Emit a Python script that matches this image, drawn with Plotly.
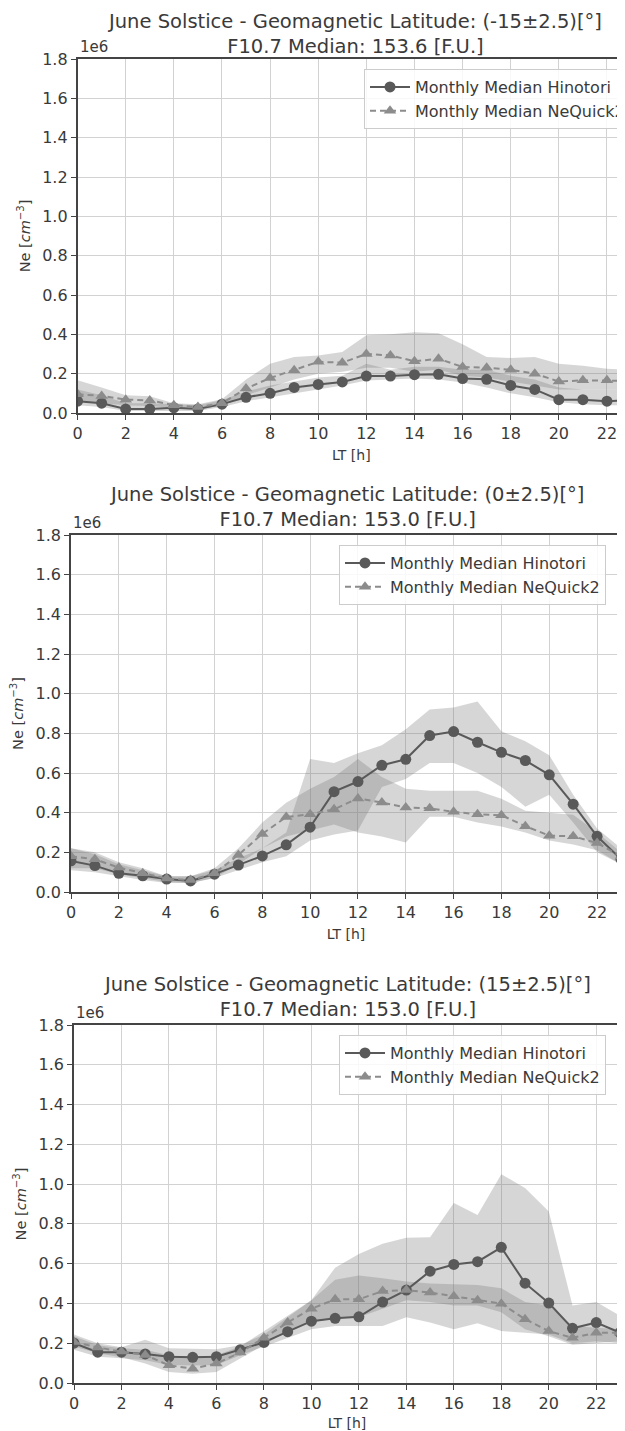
import plotly.graph_objects as go

# ---------------- data (Ne in units of 1e6 cm^-3) ----------------
lt_hours = list(range(24))
x_ticks = list(range(0, 23, 2))
y_ticks = [0.0, 0.2, 0.4, 0.6, 0.8, 1.0, 1.2, 1.4, 1.6, 1.8]

titles = [
    "June Solstice - Geomagnetic Latitude: (-15±2.5)[°]<br>F10.7 Median: 153.6 [F.U.]",
    "June Solstice - Geomagnetic Latitude: (0±2.5)[°]<br>F10.7 Median: 153.0 [F.U.]",
    "June Solstice - Geomagnetic Latitude: (15±2.5)[°]<br>F10.7 Median: 153.0 [F.U.]",
]
name_hinotori = "Monthly Median Hinotori"
name_nequick = "Monthly Median NeQuick2"

# Panel 1: -15 deg
hin_m15 = [0.06, 0.05, 0.02, 0.02, 0.027, 0.02, 0.045, 0.08, 0.10, 0.13, 0.145, 0.158,
           0.188, 0.188, 0.195, 0.197, 0.175, 0.171, 0.14, 0.12, 0.068, 0.068, 0.06, 0.065]
hin_m15_lo = [0.04, 0.03, 0.01, 0.01, 0.01, 0.01, 0.03, 0.06, 0.08, 0.10, 0.12, 0.14,
              0.165, 0.17, 0.175, 0.17, 0.155, 0.13, 0.10, 0.08, 0.055, 0.045, 0.04, 0.04]
hin_m15_hi = [0.12, 0.09, 0.05, 0.05, 0.045, 0.04, 0.065, 0.11, 0.14, 0.16, 0.18, 0.19,
              0.25, 0.22, 0.235, 0.235, 0.22, 0.22, 0.19, 0.17, 0.13, 0.12, 0.12, 0.12]
neq_m15 = [0.095, 0.087, 0.068, 0.064, 0.04, 0.03, 0.05, 0.124, 0.178, 0.217, 0.26, 0.256,
           0.30, 0.293, 0.263, 0.276, 0.234, 0.23, 0.22, 0.20, 0.16, 0.166, 0.166, 0.163]
neq_m15_lo = [0.06, 0.05, 0.04, 0.035, 0.025, 0.02, 0.035, 0.09, 0.13, 0.17, 0.20, 0.21,
              0.23, 0.23, 0.21, 0.22, 0.19, 0.18, 0.16, 0.14, 0.12, 0.12, 0.12, 0.12]
neq_m15_hi = [0.166, 0.13, 0.09, 0.085, 0.05, 0.045, 0.07, 0.17, 0.25, 0.285, 0.293, 0.31,
              0.395, 0.40, 0.41, 0.405, 0.35, 0.285, 0.28, 0.285, 0.25, 0.24, 0.225, 0.22]

# Panel 2: 0 deg
hin_0 = [0.157, 0.133, 0.094, 0.082, 0.065, 0.056, 0.09, 0.136, 0.182, 0.238, 0.327, 0.506,
         0.557, 0.639, 0.669, 0.789, 0.809, 0.755, 0.704, 0.663, 0.591, 0.443, 0.281, 0.165]
hin_0_lo = [0.11, 0.10, 0.08, 0.06, 0.045, 0.045, 0.07, 0.11, 0.15, 0.18, 0.26, 0.29,
            0.31, 0.53, 0.57, 0.65, 0.65, 0.60, 0.53, 0.43, 0.49, 0.35, 0.20, 0.14]
hin_0_hi = [0.22, 0.19, 0.14, 0.11, 0.08, 0.08, 0.11, 0.17, 0.22, 0.30, 0.67, 0.65,
            0.70, 0.74, 0.82, 0.92, 0.93, 0.96, 0.81, 0.76, 0.69, 0.49, 0.32, 0.22]
neq_0 = [0.18, 0.165, 0.123, 0.094, 0.068, 0.06, 0.094, 0.187, 0.293, 0.378, 0.392, 0.417,
         0.472, 0.451, 0.426, 0.422, 0.404, 0.392, 0.387, 0.332, 0.284, 0.281, 0.247, 0.179]
neq_0_lo = [0.12, 0.12, 0.09, 0.07, 0.05, 0.045, 0.07, 0.14, 0.22, 0.28, 0.31, 0.34,
            0.30, 0.28, 0.25, 0.38, 0.38, 0.35, 0.33, 0.30, 0.26, 0.24, 0.21, 0.14]
neq_0_hi = [0.22, 0.20, 0.15, 0.12, 0.08, 0.08, 0.12, 0.22, 0.35, 0.45, 0.52, 0.58,
            0.67, 0.58, 0.52, 0.51, 0.51, 0.51, 0.47, 0.41, 0.40, 0.39, 0.30, 0.20]

# Panel 3: +15 deg
hin_15 = [0.20, 0.155, 0.155, 0.146, 0.132, 0.129, 0.132, 0.167, 0.204, 0.258, 0.311, 0.325,
          0.333, 0.407, 0.467, 0.562, 0.596, 0.61, 0.682, 0.502, 0.402, 0.275, 0.304, 0.253]
hin_15_lo = [0.167, 0.132, 0.125, 0.115, 0.09, 0.088, 0.09, 0.14, 0.184, 0.227, 0.27, 0.287,
             0.287, 0.287, 0.33, 0.304, 0.27, 0.30, 0.261, 0.253, 0.244, 0.20, 0.21, 0.20]
hin_15_hi = [0.244, 0.20, 0.18, 0.218, 0.175, 0.172, 0.17, 0.19, 0.244, 0.33, 0.416, 0.58,
             0.648, 0.70, 0.73, 0.733, 0.905, 0.845, 1.05, 0.98, 0.862, 0.39, 0.407, 0.338]
neq_15 = [0.206, 0.179, 0.158, 0.141, 0.089, 0.072, 0.098, 0.153, 0.227, 0.304, 0.373, 0.421,
          0.421, 0.462, 0.467, 0.455, 0.436, 0.416, 0.399, 0.321, 0.261, 0.227, 0.253, 0.253]
neq_15_lo = [0.184, 0.15, 0.13, 0.098, 0.055, 0.046, 0.055, 0.124, 0.192, 0.26, 0.304, 0.325,
             0.33, 0.373, 0.416, 0.407, 0.39, 0.39, 0.356, 0.27, 0.235, 0.192, 0.20, 0.21]
neq_15_hi = [0.235, 0.19, 0.175, 0.167, 0.14, 0.132, 0.14, 0.184, 0.26, 0.338, 0.416, 0.519,
             0.541, 0.527, 0.51, 0.50, 0.496, 0.493, 0.476, 0.407, 0.39, 0.287, 0.278, 0.27]

panels = [
    (hin_m15, hin_m15_lo, hin_m15_hi, neq_m15, neq_m15_lo, neq_m15_hi),
    (hin_0, hin_0_lo, hin_0_hi, neq_0, neq_0_lo, neq_0_hi),
    (hin_15, hin_15_lo, hin_15_hi, neq_15, neq_15_lo, neq_15_hi),
]

# ---------------- layout geometry (target screen pixels) ----------------
OFF = 8                      # page body margin of the html page
W, H = 625 - OFF, 1431 - OFF


def fx(px):
    return (px - OFF) / W


def fy(py):
    return 1 - (py - OFF) / H


# (x0_px, x1_px, xmax, y_top_px, y_bot_px)
geom = [
    (77.6, 625, 22.75, 59, 413),
    (71, 621, 23, 535, 892),
    (74, 620, 23, 1025, 1383),
]
legend_right = [631, 606, 606]
title_bottom = [59, 532, 1022]

FONT = "DejaVu Sans"
TXT = "#3a3a3a"
HIN_C = "#595959"
NEQ_C = "#8c8c8c"
BAND = "rgba(120,120,120,0.30)"

fig = go.Figure()
layout = dict(
    width=W, height=H, margin=dict(l=0, r=0, t=0, b=0, autoexpand=False),
    paper_bgcolor="white", plot_bgcolor="white",
    font=dict(family=FONT, size=15, color=TXT),
    showlegend=True,
)
annotations = []

for i, (data, g) in enumerate(zip(panels, geom)):
    hin, hin_lo, hin_hi, neq, neq_lo, neq_hi = data
    x0, x1, xmax, yt, yb = g
    k = "" if i == 0 else str(i + 1)
    xa, ya = "x" + k, "y" + k
    leg = "legend" if i == 0 else "legend" + str(i + 1)

    for lo, hi in ((hin_lo, hin_hi), (neq_lo, neq_hi)):
        fig.add_trace(go.Scatter(
            x=lt_hours + lt_hours[::-1], y=hi + lo[::-1],
            fill="toself", fillcolor=BAND, line=dict(width=0),
            mode="lines", hoverinfo="skip", showlegend=False,
            xaxis=xa, yaxis=ya))
    fig.add_trace(go.Scatter(
        x=lt_hours, y=hin, mode="lines+markers", name=name_hinotori,
        line=dict(color=HIN_C, width=2),
        marker=dict(symbol="circle", size=11, color=HIN_C),
        xaxis=xa, yaxis=ya, legend=leg))
    fig.add_trace(go.Scatter(
        x=lt_hours, y=neq, mode="lines+markers", name=name_nequick,
        line=dict(color=NEQ_C, width=2, dash="6px,4px"),
        marker=dict(symbol="triangle-up", size=11, color=NEQ_C),
        xaxis=xa, yaxis=ya, legend=leg))

    dom_x = [fx(x0), min(1.0, fx(x1))]
    dom_y = [fy(yb), fy(yt)]
    layout["xaxis" + k] = dict(
        domain=dom_x, range=[0, xmax], tickvals=x_ticks, automargin=False,
        showgrid=True, gridcolor="#d2d2d2", gridwidth=1, zeroline=False,
        showline=True, linecolor="#444444", linewidth=1.6, mirror=True,
        ticks="outside", ticklen=5, tickcolor="#444444",
        tickfont=dict(size=16, color=TXT),
        title=dict(text="LT [h]", font=dict(size=14, color=TXT), standoff=8),
        anchor=ya,
    )
    layout["yaxis" + k] = dict(
        domain=dom_y, range=[0, 1.8], tickvals=y_ticks, tickformat=".1f", automargin=False,
        showgrid=True, gridcolor="#d2d2d2", gridwidth=1, zeroline=False,
        showline=True, linecolor="#444444", linewidth=1.6, mirror=(i != 0),
        ticks="outside", ticklen=5, tickcolor="#444444",
        tickfont=dict(size=16, color=TXT),
        title=dict(text="Ne [<i>cm</i><sup>−3</sup>]", font=dict(size=14.5, color=TXT), standoff=8),
        anchor=xa,
    )
    layout[leg] = dict(
        x=fx(legend_right[i]), y=fy(yt + 10), xanchor="right", yanchor="top",
        bgcolor="rgba(255,255,255,0.85)", bordercolor="#cccccc", borderwidth=1,
        font=dict(size=16, color=TXT), itemwidth=40, tracegroupgap=0,
    )
    x_end = x0 + (x1 - x0) * 23 / xmax
    annotations.append(dict(
        text=titles[i], x=fx((x0 + x_end) / 2), y=fy(title_bottom[i]), xref="paper", yref="paper",
        xanchor="center", yanchor="bottom", showarrow=False, align="center", borderpad=0,
        font=dict(size=19.5, color=TXT, family=FONT)))
    annotations.append(dict(
        text="1e6", x=fx(x0), y=fy(yt - 1), xref="paper", yref="paper",
        xanchor="left", yanchor="bottom", showarrow=False,
        font=dict(size=15, color=TXT, family=FONT)))

layout["annotations"] = annotations
fig.update_layout(**layout)
fig.write_html("out.html")
